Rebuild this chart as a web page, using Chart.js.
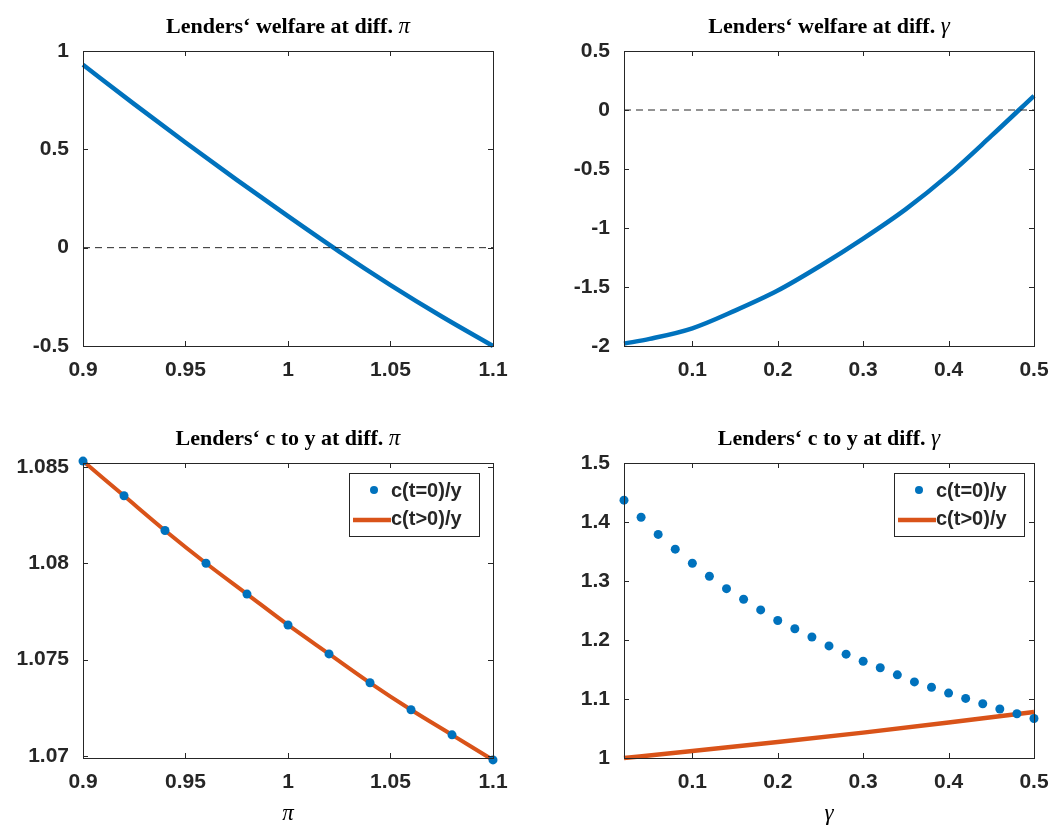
<!DOCTYPE html>
<html>
<head>
<meta charset="utf-8">
<script src="https://cdn.jsdelivr.net/npm/chart.js@4/dist/chart.umd.min.js"></script>
<style>
  body { margin: 0; background: #fff; }
  .wrap { position: absolute; }
</style>
</head>
<body>
<div class="wrap" style="left:0;top:0;width:529px;height:410px"><canvas id="c1"></canvas></div>
<div class="wrap" style="left:529px;top:0;width:529px;height:410px"><canvas id="c2"></canvas></div>
<div class="wrap" style="left:0;top:415px;width:529px;height:416px"><canvas id="c3"></canvas></div>
<div class="wrap" style="left:529px;top:415px;width:529px;height:416px"><canvas id="c4"></canvas></div>
<script>
// data
const piWelfare = [0.9, 0.925, 0.95, 0.975, 1.0, 1.025, 1.05, 1.075, 1.1]
const welfarePi = [0.93, 0.73, 0.535, 0.345, 0.16, -0.02, -0.19, -0.35, -0.5]

const gammaWelfare = [0.02, 0.05, 0.1, 0.15, 0.2, 0.25, 0.3, 0.35, 0.4, 0.45, 0.5]
const welfareGamma = [-1.98, -1.94, -1.85, -1.70, -1.53, -1.32, -1.09, -0.84, -0.55, -0.22, 0.12]

const piGrid = [0.9, 0.92, 0.94, 0.96, 0.98, 1.0, 1.02, 1.04, 1.06, 1.08, 1.1]
const c0Pi = [1.0853, 1.0835, 1.0817, 1.0800, 1.0784, 1.0768, 1.0753, 1.0738, 1.0724, 1.0711, 1.0698]
const cTPi = [1.0853, 1.0835, 1.0817, 1.0800, 1.0784, 1.0768, 1.0753, 1.0738, 1.0724, 1.0711, 1.0698]

const gammaGrid = [0.02, 0.04, 0.06, 0.08, 0.1, 0.12, 0.14, 0.16, 0.18, 0.2, 0.22, 0.24, 0.26,
  0.28, 0.3, 0.32, 0.34, 0.36, 0.38, 0.4, 0.42, 0.44, 0.46, 0.48, 0.5]
const c0Gamma = [1.437, 1.408, 1.379, 1.354, 1.330, 1.308, 1.287, 1.269, 1.251, 1.233, 1.219, 1.205, 1.190,
  1.176, 1.164, 1.153, 1.141, 1.129, 1.120, 1.110, 1.101, 1.092, 1.083, 1.075, 1.067]
const gammaLine = [0.02, 0.1, 0.2, 0.3, 0.4, 0.5]
const cTGamma = [1.0, 1.012, 1.027, 1.043, 1.06, 1.078]

const piTicks = [0.9, 0.95, 1, 1.05, 1.1]
const gammaTicks = [0.1, 0.2, 0.3, 0.4, 0.5]

const blue = "rgb(0,114,189)"
const orange = "rgb(217,83,25)"
const tickFont = { family: "Liberation Sans, Arial", size: 21, weight: "bold" }
const titleFont = "bold 22px 'Liberation Serif', serif"
const symFont = "italic 23px 'Liberation Serif', serif"

const zip = (xs, ys) => xs.map((x, i) => ({ x, y: ys[i] }))

// frame, inward ticks, title and legend
const framePlugin = {
  id: "frame",
  afterDraw(chart, args, opts) {
    const { ctx, chartArea: a, scales } = chart
    ctx.save()
    ctx.strokeStyle = "#262626"
    ctx.lineWidth = 1
    ctx.strokeRect(a.left + 0.5, a.top + 0.5, a.right - a.left, a.bottom - a.top)
    scales.x.ticks.forEach(t => {
      const px = Math.round(scales.x.getPixelForValue(t.value)) + 0.5
      ctx.beginPath()
      ctx.moveTo(px, a.bottom); ctx.lineTo(px, a.bottom - 5)
      ctx.moveTo(px, a.top); ctx.lineTo(px, a.top + 5)
      ctx.stroke()
    })
    scales.y.ticks.forEach(t => {
      const py = Math.round(scales.y.getPixelForValue(t.value)) + 0.5
      ctx.beginPath()
      ctx.moveTo(a.left, py); ctx.lineTo(a.left + 5, py)
      ctx.moveTo(a.right, py); ctx.lineTo(a.right - 5, py)
      ctx.stroke()
    })
    // title
    ctx.fillStyle = "#000"
    ctx.textBaseline = "alphabetic"
    ctx.textAlign = "left"
    ctx.font = titleFont
    const w1 = ctx.measureText(opts.title + " ").width
    ctx.font = symFont
    const w2 = ctx.measureText(opts.sym).width
    const cx = (a.left + a.right) / 2
    const x0 = cx - (w1 + w2) / 2
    ctx.font = titleFont
    ctx.fillText(opts.title + " ", x0, opts.titleY)
    ctx.font = symFont
    ctx.fillText(opts.sym, x0 + w1, opts.titleY)
    if (opts.xlabel) {
      ctx.textAlign = "center"
      ctx.fillText(opts.xlabel, cx, a.bottom + 62)
    }
    if (opts.legend) {
      const L = opts.legend
      ctx.fillStyle = "#fff"
      ctx.fillRect(L.x, L.y, L.w, 63)
      ctx.strokeStyle = "#262626"
      ctx.strokeRect(L.x + 0.5, L.y + 0.5, L.w, 63)
      ctx.fillStyle = blue
      ctx.beginPath(); ctx.arc(L.x + 25, L.y + 17, 4, 0, Math.PI * 2); ctx.fill()
      ctx.strokeStyle = orange
      ctx.lineWidth = 4.5
      ctx.beginPath(); ctx.moveTo(L.x + 4, L.y + 47); ctx.lineTo(L.x + 42, L.y + 47); ctx.stroke()
      ctx.fillStyle = "#262626"
      ctx.font = "bold 20px 'Liberation Sans', Arial"
      ctx.textAlign = "left"
      ctx.textBaseline = "middle"
      ctx.fillText("c(t=0)/y", L.x + 42, L.y + 18)
      ctx.fillText("c(t>0)/y", L.x + 42, L.y + 46)
    }
    ctx.restore()
  }
}

function makeChart(id, datasets, cfg) {
  return new Chart(document.getElementById(id), {
    type: "scatter",
    data: { datasets },
    plugins: [framePlugin],
    options: {
      responsive: true,
      maintainAspectRatio: false,
      animation: false,
      layout: { padding: { top: cfg.top, right: cfg.right, left: 0, bottom: 0 } },
      plugins: {
        legend: { display: false },
        tooltip: { enabled: false },
        frame: cfg.frame
      },
      scales: {
        x: {
          type: "linear", min: cfg.xmin, max: cfg.xmax,
          grid: { display: false }, border: { display: false },
          afterBuildTicks: s => { s.ticks = cfg.xticks.map(v => ({ value: v })) },
          afterFit: s => { s.height = cfg.xh },
          ticks: { font: tickFont, color: "#262626", padding: 4, maxRotation: 0,
            callback: v => String(v) }
        },
        y: {
          type: "linear", min: cfg.ymin, max: cfg.ymax,
          grid: { display: false }, border: { display: false },
          afterBuildTicks: s => { s.ticks = cfg.yticks.map(v => ({ value: v })) },
          afterFit: s => { s.width = cfg.yw },
          ticks: { font: tickFont, color: "#262626", padding: 6,
            callback: v => String(v) }
        }
      }
    }
  })
}

const lineDs = (data, color, width, extra) => Object.assign({
  data, showLine: true, borderColor: color, borderWidth: width, pointRadius: 0,
  cubicInterpolationMode: "monotone", clip: 4
}, extra || {})
const dotDs = data => ({ data, showLine: false, pointRadius: 4.5, pointBackgroundColor: blue,
  pointBorderWidth: 0, clip: false })
const zeroLine = (a, b) => lineDs([{ x: a, y: 0 }, { x: b, y: 0 }], "#262626", 1, { borderDash: [7, 5] })

makeChart("c1", [zeroLine(0.9, 1.1), lineDs(zip(piWelfare, welfarePi), blue, 4.5)], {
  xmin: 0.9, xmax: 1.1, ymin: -0.5, ymax: 1, xticks: piTicks, yticks: [-0.5, 0, 0.5, 1],
  top: 51, right: 36, xh: 64, yw: 83,
  frame: { title: "Lenders\u2018 welfare at diff.", sym: "\u03c0", titleY: 33 }
})
makeChart("c2", [zeroLine(0.02, 0.5), lineDs(zip(gammaWelfare, welfareGamma), blue, 4.5)], {
  xmin: 0.02, xmax: 0.5, ymin: -2, ymax: 0.5, xticks: gammaTicks, yticks: [-2, -1.5, -1, -0.5, 0, 0.5],
  top: 51, right: 24, xh: 64, yw: 95,
  frame: { title: "Lenders\u2018 welfare at diff.", sym: "\u03b3", titleY: 33 }
})
makeChart("c3", [dotDs(zip(piGrid, c0Pi)), lineDs(zip(piGrid, cTPi), orange, 4)], {
  xmin: 0.9, xmax: 1.1, ymin: 1.0699, ymax: 1.0852, xticks: piTicks, yticks: [1.07, 1.075, 1.08, 1.085],
  top: 48, right: 36, xh: 73, yw: 83,
  frame: { title: "Lenders\u2018 c to y at diff.", sym: "\u03c0", titleY: 30, xlabel: "\u03c0",
    legend: { x: 349, y: 58, w: 130 } }
})
makeChart("c4", [dotDs(zip(gammaGrid, c0Gamma)), lineDs(zip(gammaLine, cTGamma), orange, 4.5)], {
  xmin: 0.02, xmax: 0.5, ymin: 1, ymax: 1.5, xticks: gammaTicks, yticks: [1, 1.1, 1.2, 1.3, 1.4, 1.5],
  top: 48, right: 24, xh: 73, yw: 95,
  frame: { title: "Lenders\u2018 c to y at diff.", sym: "\u03b3", titleY: 30, xlabel: "\u03b3",
    legend: { x: 365, y: 58, w: 130 } }
})
</script>
</body>
</html>
